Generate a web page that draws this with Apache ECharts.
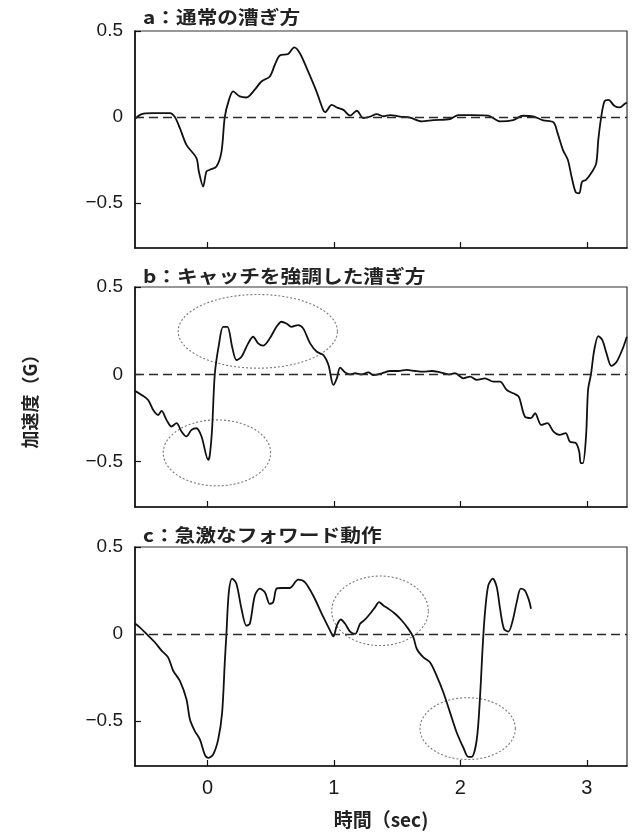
<!DOCTYPE html>
<html>
<head>
<meta charset="utf-8">
<script src="https://cdn.jsdelivr.net/npm/echarts@6/dist/echarts.min.js"></script>
<style>
  html, body { margin: 0; padding: 0; background: #fff; }
  #chart { width: 639px; height: 833px; }
</style>
</head>
<body>
<div id="chart"></div>
<script>
// Panel headings
const panelTitles = ['a：通常の漕ぎ方', 'b：キャッチを強調した漕ぎ方', 'c：急激なフォワード動作'];

// Acceleration traces: [time (sec), acceleration (G)]
const strokeA = [
  [-0.573,-0.01],[-0.52,0.017],[-0.44,0.023],[-0.297,0.023],[-0.258,0.0],[-0.218,-0.064],
  [-0.166,-0.161],[-0.087,-0.238],[-0.068,-0.316],[-0.034,-0.403],[-0.008,-0.316],[0.018,-0.306],
  [0.071,-0.287],[0.111,-0.2],[0.137,0],[0.17,0.1],[0.203,0.149],[0.256,0.12],[0.309,0.114],
  [0.374,0.159],[0.427,0.207],[0.493,0.236],[0.533,0.304],[0.572,0.358],[0.638,0.366],[0.686,0.405],
  [0.73,0.372],[0.796,0.265],[0.862,0.149],[0.915,0.042],[0.93,0.029],[0.983,0.071],[1.023,0.056],
  [1.075,0.042],[1.128,0.009],[1.181,0.037],[1.233,-0.006],[1.286,0.003],[1.339,0.017],[1.392,0.005],
  [1.444,0.012],[1.523,0.003],[1.602,-0.003],[1.695,-0.025],[1.787,-0.017],[1.919,-0.011],[1.984,0.012],
  [2.103,0.012],[2.221,0.009],[2.314,-0.025],[2.419,-0.017],[2.494,0.008],[2.575,0.004],[2.656,-0.019],
  [2.737,-0.031],[2.769,-0.093],[2.811,-0.19],[2.85,-0.248],[2.882,-0.354],[2.914,-0.438],[2.94,-0.442],
  [2.962,-0.376],[2.994,-0.364],[3.043,-0.316],[3.075,-0.267],[3.091,-0.132],[3.114,0],[3.14,0.091],
  [3.172,0.1],[3.22,0.064],[3.262,0.056],[3.301,0.078],[3.318,0.085]
];
const strokeB = [
  [-0.574,-0.095],[-0.521,-0.118],[-0.469,-0.147],[-0.429,-0.204],[-0.39,-0.233],[-0.363,-0.21],
  [-0.324,-0.261],[-0.284,-0.299],[-0.245,-0.28],[-0.205,-0.328],[-0.166,-0.356],[-0.126,-0.318],
  [-0.087,-0.309],[-0.047,-0.356],[0.006,-0.49],[0.019,-0.461],[0.037,-0.309],[0.058,0],[0.09,0.167],
  [0.124,0.272],[0.158,0.272],[0.195,0.158],[0.229,0.082],[0.269,0.1],[0.322,0.177],[0.361,0.215],
  [0.401,0.177],[0.44,0.164],[0.493,0.206],[0.546,0.272],[0.585,0.301],[0.625,0.291],[0.664,0.272],
  [0.717,0.282],[0.757,0.263],[0.812,0.177],[0.865,0.129],[0.917,0.11],[0.957,0.053],[0.996,-0.061],
  [1.023,-0.023],[1.049,0.038],[1.089,0.011],[1.128,0],[1.168,0.006],[1.22,0],[1.273,0.011],
  [1.312,-0.004],[1.379,0.006],[1.444,0.019],[1.51,0.019],[1.576,0.025],[1.642,0.019],[1.707,0.015],
  [1.774,0.019],[1.84,0.011],[1.905,0],[1.958,0.006],[2.024,-0.023],[2.077,-0.013],[2.13,-0.032],
  [2.195,-0.023],[2.261,-0.042],[2.314,-0.042],[2.367,-0.09],[2.419,-0.109],[2.462,-0.128],[2.51,-0.242],
  [2.559,-0.251],[2.591,-0.223],[2.64,-0.29],[2.688,-0.28],[2.737,-0.328],[2.785,-0.347],[2.833,-0.337],
  [2.866,-0.385],[2.914,-0.394],[2.94,-0.442],[2.952,-0.509],[2.969,-0.509],[2.994,-0.356],[3.01,-0.09],
  [3.033,0],[3.059,0.139],[3.091,0.219],[3.123,0.196],[3.156,0.12],[3.194,0.048],[3.236,0.072],
  [3.285,0.149],[3.317,0.215]
];
const strokeC = [
  [-0.573,0.06],[-0.535,0.038],[-0.482,0],[-0.416,-0.048],[-0.363,-0.096],[-0.311,-0.135],
  [-0.271,-0.212],[-0.218,-0.27],[-0.166,-0.376],[-0.139,-0.491],[-0.1,-0.559],[-0.06,-0.607],
  [-0.021,-0.694],[0.006,-0.713],[0.045,-0.694],[0.085,-0.607],[0.116,-0.453],[0.137,-0.164],[0.15,0],
  [0.169,0.24],[0.195,0.318],[0.229,0.289],[0.269,0.145],[0.308,0.048],[0.335,0.058],[0.375,0.221],
  [0.414,0.26],[0.454,0.24],[0.493,0.173],[0.52,0.183],[0.546,0.26],[0.585,0.264],[0.651,0.264],
  [0.717,0.312],[0.77,0.298],[0.836,0.221],[0.917,0.096],[0.97,0.019],[0.996,-0.014],[1.023,0.048],
  [1.054,0.083],[1.089,0.058],[1.128,0.013],[1.168,0],[1.207,0.058],[1.247,0.083],[1.286,0.116],
  [1.326,0.154],[1.357,0.183],[1.391,0.164],[1.431,0.145],[1.484,0.116],[1.537,0.077],[1.589,0.029],
  [1.628,-0.019],[1.656,-0.087],[1.708,-0.135],[1.761,-0.164],[1.813,-0.241],[1.866,-0.337],
  [1.919,-0.453],[1.972,-0.569],[2.024,-0.655],[2.063,-0.707],[2.09,-0.707],[2.13,-0.607],[2.156,-0.357],
  [2.177,-0.068],[2.195,0.125],[2.221,0.279],[2.256,0.318],[2.288,0.269],[2.314,0.145],[2.345,0.029],
  [2.38,0.013],[2.414,0.077],[2.446,0.183],[2.478,0.26],[2.51,0.25],[2.543,0.193],[2.559,0.145]
];

// Circled regions: [centre time, centre G, half-width (sec), half-height (G)]
const circledB = [[0.398, 0.246, 0.63, 0.211], [0.075, -0.45, 0.425, 0.189]];
const circledC = [[1.365, 0.133, 0.382, 0.2], [2.058, -0.545, 0.377, 0.178]];

// Axis ticks
const xTicks = [0, 1, 2, 3];
const yTicks = [-0.5, 0, 0.5];

const X_MIN = -0.573, X_MAX = 3.318, Y_MIN = -0.76, Y_MAX = 0.5;
const NUM_FONT = '"Liberation Sans", Arial, sans-serif';
const JP_FONT = '"Noto Sans CJK JP", "Noto Sans", sans-serif';

const panelBoxes = [{ top: 31, height: 217 }, { top: 287, height: 220 }, { top: 547, height: 219 }];
const traces = [strokeA, strokeB, strokeC];
const circled = [null, circledB, circledC];

const grid = panelBoxes.map(b => ({
  left: 135, right: 12, top: b.top, height: b.height,
  show: true, borderColor: '#333', borderWidth: 1.2
}));

const xAxis = panelBoxes.map((b, i) => ({
  type: 'value', gridIndex: i, min: X_MIN, max: X_MAX,
  axisLine: { show: true, onZero: false, lineStyle: { color: '#111', width: 1.6 } },
  axisTick: { show: true, inside: true, length: 6, customValues: xTicks, lineStyle: { color: '#111', width: 1.2 } },
  axisLabel: {
    show: i === 2, customValues: xTicks, margin: 12,
    fontSize: 20, fontFamily: NUM_FONT, color: '#1a1a1a'
  },
  splitLine: { show: false },
  name: i === 2 ? '時間（sec)' : '',
  nameLocation: 'middle', nameGap: 44,
  nameTextStyle: { fontSize: 19, fontFamily: JP_FONT, fontWeight: 'bold', color: '#222' }
}));

const yAxis = panelBoxes.map((b, i) => ({
  type: 'value', gridIndex: i, min: Y_MIN, max: Y_MAX,
  axisLine: { show: true, onZero: false, lineStyle: { color: '#111', width: 1.6 } },
  axisTick: { show: true, inside: true, length: 6, customValues: yTicks, lineStyle: { color: '#111', width: 1.2 } },
  axisLabel: {
    customValues: yTicks, margin: 12,
    fontSize: 19, fontFamily: NUM_FONT, color: '#1a1a1a',
    formatter: v => (v < 0 ? '\u2212' + Math.abs(v) : String(v))
  },
  splitLine: { show: false },
  name: i === 1 ? '加速度（G）' : '',
  nameLocation: 'middle', nameRotate: 90, nameGap: 96,
  nameTextStyle: { fontSize: 18, fontFamily: JP_FONT, fontWeight: 'bold', color: '#222' }
}));

function ellipseItem(params, api) {
  const cx = api.value(0), cy = api.value(1), rx = api.value(2), ry = api.value(3);
  const pts = [];
  for (let k = 0; k <= 96; k++) {
    const a = (k / 96) * Math.PI * 2;
    pts.push(api.coord([cx + rx * Math.cos(a), cy + ry * Math.sin(a)]));
  }
  return {
    type: 'polyline',
    shape: { points: pts },
    style: { fill: null, stroke: '#777', lineWidth: 1.1, lineDash: [2, 2] }
  };
}

const series = [];
traces.forEach((data, i) => {
  series.push({
    type: 'line', xAxisIndex: i, yAxisIndex: i, data,
    showSymbol: false, smooth: 0.3, silent: true,
    lineStyle: { color: '#111', width: 1.8 },
    markLine: {
      silent: true, symbol: ['none', 'none'], label: { show: false },
      lineStyle: { type: [9, 5], color: '#2a2a2a', width: 1.4 },
      data: [{ yAxis: 0 }]
    }
  });
  if (circled[i]) {
    series.push({
      type: 'custom', xAxisIndex: i, yAxisIndex: i, data: circled[i],
      renderItem: ellipseItem, silent: true, clip: false
    });
  }
});

const titleY = [17, 276, 535];
const graphic = panelTitles.map((t, i) => ({
  type: 'text', x: 143, y: titleY[i], scaleX: 1.15,
  style: {
    text: t, fontSize: 18, fontFamily: JP_FONT, fontWeight: 'bold', fill: '#222',
    textAlign: 'left', verticalAlign: 'middle'
  }
}));

const chart = echarts.init(document.getElementById('chart'), null, { renderer: 'canvas' });
chart.setOption({
  animation: false,
  backgroundColor: '#fff',
  grid, xAxis, yAxis, series, graphic
});
</script>
</body>
</html>
